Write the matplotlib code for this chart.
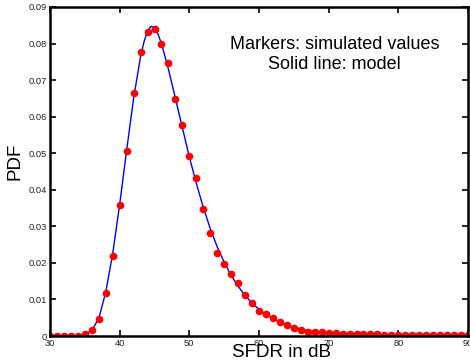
import numpy as np
import matplotlib.pyplot as plt

plt.rcParams['font.family'] = ['Liberation Sans', 'DejaVu Sans']

# Simulated values (markers), one per dB
sfdr_sim = np.arange(30, 91)
pdf_sim = [0.0000, 0.0000, 0.0000, 0.0000, 0.0000, 0.0005, 0.0016, 0.0047, 0.0118, 0.0219,
           0.0358, 0.0505, 0.0666, 0.0777, 0.0831, 0.0839, 0.0800, 0.0748, 0.0648, 0.0577,
           0.0493, 0.0431, 0.0348, 0.0282, 0.0227, 0.0197, 0.0169, 0.0144, 0.0112, 0.0089,
           0.0069, 0.0060, 0.0049, 0.0037, 0.0030, 0.0022, 0.0016, 0.0012, 0.0010, 0.0010,
           0.0009, 0.0007, 0.0006, 0.0006, 0.0006, 0.0005, 0.0005, 0.0005, 0.0004, 0.0004,
           0.0003, 0.0003, 0.0003, 0.0003, 0.0003, 0.0003, 0.0003, 0.0003, 0.0003, 0.0003,
           0.0003]

# Model curve (solid line)
sfdr_model = [30, 31, 32, 33, 34, 35, 36, 37, 38, 39, 40, 41, 42, 43, 43.5, 44, 44.5, 45,
              45.5, 46, 47, 48, 49, 50, 51, 52, 53, 54, 55, 56, 57, 58, 59, 60, 61, 62, 63,
              64, 65, 66, 67, 68, 69, 70, 72, 75, 80, 85, 90]
pdf_model = [0.0, 0.0, 0.0, 0.0, 0.0001, 0.0004, 0.0015, 0.0048, 0.0120, 0.0225, 0.0360,
             0.0508, 0.0650, 0.0765, 0.0805, 0.0835, 0.0847, 0.0845, 0.0826, 0.0800, 0.0730,
             0.0650, 0.0570, 0.0490, 0.0418, 0.0352, 0.0294, 0.0244, 0.0202, 0.0166, 0.0136,
             0.0111, 0.0090, 0.0073, 0.0059, 0.0047, 0.0038, 0.0030, 0.0024, 0.0019, 0.0015,
             0.0012, 0.0010, 0.0008, 0.0005, 0.0003, 0.0001, 0.00005, 0.0]

fig = plt.figure(figsize=(4.7, 3.62), dpi=100)
ax = fig.add_axes([0.1064, 0.0718, 0.8893, 0.9089])

ax.plot(sfdr_model, pdf_model, color='blue', linewidth=1.0)
ax.plot(sfdr_sim, pdf_sim, linestyle='none', marker='o', markersize=4.5,
        color='red', markeredgecolor='red')

ax.set_xlim(30, 90)
ax.set_ylim(0, 0.09)
ax.set_xticks(np.arange(30, 91, 10))
ax.set_yticks(np.arange(0, 0.091, 0.01))
ax.set_yticklabels(['0', '0.01', '0.02', '0.03', '0.04', '0.05', '0.06', '0.07', '0.08', '0.09'])

ax.tick_params(direction='in', top=True, right=True, length=4, width=1.2,
               labelsize=6.7, labelcolor='#222222')
ax.tick_params(axis='x', pad=2.5)
ax.tick_params(axis='y', pad=2.0)
for s in ax.spines.values():
    s.set_linewidth(1.8)

# axis labels placed as in the original figure
ax.text(0.554, -0.063, 'SFDR in dB', transform=ax.transAxes, ha='center',
        va='baseline', fontsize=13.5)
ax.text(-0.0837, 0.532, 'PDF', transform=ax.transAxes, ha='center',
        va='center', rotation=90, fontsize=13.5)

ax.text(0.681, 0.8723, 'Markers: simulated values', transform=ax.transAxes,
        ha='center', va='baseline', fontsize=13)
ax.text(0.681, 0.8106, 'Solid line: model', transform=ax.transAxes,
        ha='center', va='baseline', fontsize=13)

fig.savefig('out.png', dpi=100)
